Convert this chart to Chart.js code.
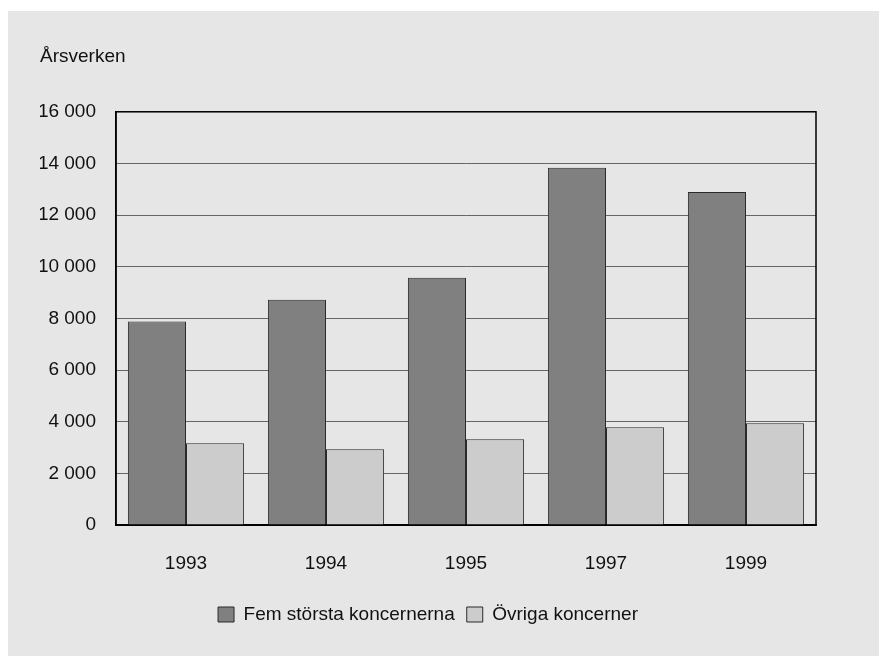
<!DOCTYPE html>
<html><head><meta charset="utf-8">
<script src="https://cdn.jsdelivr.net/npm/chart.js@4/dist/chart.umd.min.js"></script>
<style>
html,body{margin:0;padding:0;background:#fff;}
#box{position:absolute;left:8px;top:11px;width:871px;height:645px;background:#e6e6e6;}
canvas{display:block;}
</style></head>
<body>
<div id="box"><canvas id="c" width="871" height="645"></canvas></div>
<script>
const categories = ["1993", "1994", "1995", "1997", "1999"];
const femStorsta = [7880, 8730, 9580, 13830, 12900];
const ovriga = [3170, 2940, 3330, 3790, 3950];
const seriesNames = ["Fem största koncernerna", "Övriga koncerner"];
const yTitle = "Årsverken";

const FONT = "'Liberation Sans Narrow','Arial Narrow','Liberation Sans',sans-serif";

const frame = {
  id: 'frame',
  afterDraw(chart) {
    const a = chart.chartArea, ctx = chart.ctx;
    ctx.save();
    ctx.strokeStyle = '#000';
    ctx.lineWidth = 1.5;
    ctx.strokeRect(a.left, a.top, a.right - a.left, a.bottom - a.top);
    ctx.restore();
  }
};

new Chart(document.getElementById('c'), {
  type: 'bar',
  data: {
    labels: categories,
    datasets: [
      { label: seriesNames[0], data: femStorsta, backgroundColor: '#808080', borderColor: '#2a2a2a', borderWidth: 1, categoryPercentage: 0.83, barPercentage: 1.0 },
      { label: seriesNames[1], data: ovriga, backgroundColor: '#cccccc', borderColor: '#2a2a2a', borderWidth: 1, categoryPercentage: 0.83, barPercentage: 1.0 }
    ]
  },
  options: {
    responsive: false,
    animation: false,
    layout: { padding: { left: 32, right: 63, top: 34, bottom: 22 } },
    plugins: {
      title: {
        display: true, text: yTitle, align: 'start', color: '#111',
        font: { family: FONT, size: 19, weight: 'normal' },
        padding: { top: 0, bottom: 44 }
      },
      legend: {
        position: 'bottom',
        labels: {
          color: '#111', font: { family: FONT, size: 19 },
          boxWidth: 16, boxHeight: 15, padding: 12
        }
      },
      tooltip: { enabled: false }
    },
    scales: {
      x: {
        afterFit(s) { s.height = s.height - 10; },
        grid: { display: false, drawTicks: false },
        border: { color: '#000', width: 1.5 },
        ticks: { color: '#111', font: { family: FONT, size: 19 }, padding: 27.5 }
      },
      y: {
        min: 0, max: 16000,
        afterFit(s) { s.width = 76; },
        grid: { color: '#666', lineWidth: 1, drawTicks: false },
        border: { color: '#000', width: 1.5 },
        ticks: {
          stepSize: 2000, color: '#111', font: { family: FONT, size: 19 }, padding: 20,
          callback: v => v === 0 ? '0' : (Math.floor(v / 1000) + ' ' + String(v % 1000).padStart(3, '0'))
        }
      }
    }
  },
  plugins: [frame]
});
</script>
</body></html>
